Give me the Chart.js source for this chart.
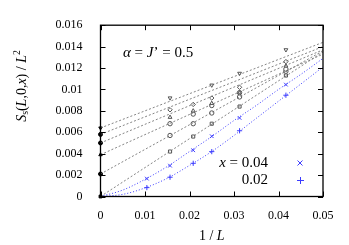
<!DOCTYPE html>
<html lang="en">
<head>
    <meta charset="UTF-8">
    <title>S_s(L,0,x) / L^2 vs 1/L</title>
    <script src="https://cdn.jsdelivr.net/npm/chart.js@4/dist/chart.umd.min.js"></script>
    <style>
        html, body { margin: 0; padding: 0; background: #fff; }
        #wrap { width: 349px; height: 245px; }
    </style>
</head>
<body>
    <div id="wrap"><canvas id="chart"></canvas></div>
    <script>
        // 1/L for L = 96, 64, 48, 40, 32, 24
        const invL = [0.010417, 0.015625, 0.020833, 0.025, 0.03125, 0.041667];
        // gray series only have L = 64 .. 24
        const invLGray = [0.015625, 0.020833, 0.025, 0.03125, 0.041667];

        // blue series (legend)
        const x004 = [0.00167, 0.00288, 0.00432, 0.00563, 0.00734, 0.01045];
        const x002 = [0.00083, 0.0018, 0.0031, 0.00419, 0.00614, 0.00946];

        // blue fit curves
        const fitX = [0, 0.005, 0.01, 0.015, 0.02, 0.025, 0.03, 0.035, 0.04, 0.045, 0.05];
        const fit004 = [0, 0.0006, 0.0016, 0.0028, 0.0042, 0.0056, 0.0071, 0.0085, 0.0100, 0.0114, 0.0129];
        const fit002 = [0, 0.0002, 0.0008, 0.0017, 0.0029, 0.0042, 0.0057, 0.0073, 0.0089, 0.0105, 0.0121];

        // gray series (markers), top to bottom
        const grayTriDown = [0.0092, null, 0.0104, 0.0115, 0.0137];
        const grayDiamond = [0.0081, 0.0086, 0.0092, 0.0102, 0.0126];
        const grayTriUp   = [0.0074, 0.0080, 0.0087, 0.0097, 0.0122];
        const grayCircle  = [0.0068, 0.0077, 0.0085, 0.0097, 0.0119];
        const grayRing    = [0.0057, 0.0068, 0.0078, 0.0093, 0.0117];
        const graySquare  = [0.0042, 0.0056, 0.0068, 0.0084, 0.0113];

        // linear fits: value at 1/L = 0 (extrapolated) and at 1/L = 0.05
        const grayIntercepts = [0.0064, 0.0058, 0.0050, 0.0039, 0.0021, 0];
        const grayEnds       = [0.0144, 0.0140, 0.0137, 0.0133, 0.0136, 0.0135];
        const interceptStyles = [['triangle', 180], ['circle', 0], ['circle', 0], ['triangle', 0], ['circle', 0], ['rect', 0]];

        const xTicks = [0, 0.01, 0.02, 0.03, 0.04, 0.05];
        const yTicks = [0, 0.002, 0.004, 0.006, 0.008, 0.01, 0.012, 0.014, 0.016];

        const SERIF = "'Liberation Serif', 'Times New Roman', serif";
        const GRAY = '#666';
        const MARK = '#555';
        const BLUE = '#3c3cff';

        const pts = (xs, ys) => xs.map((x, i) => ({ x: x, y: ys[i] })).filter(p => p.y !== null);

        const datasets = [];

        // gray fit lines
        grayIntercepts.forEach((b, i) => {
            datasets.push({
                data: [{ x: 0, y: b }, { x: 0.05, y: grayEnds[i] }],
                showLine: true, borderColor: GRAY, borderWidth: 0.8, borderDash: [2, 2],
                pointRadius: 0
            });
        });
        // blue fit curves
        [fit004, fit002].forEach(f => {
            datasets.push({
                data: pts(fitX, f),
                showLine: true, borderColor: BLUE, borderWidth: 1, borderDash: [1, 2],
                pointRadius: 0, cubicInterpolationMode: 'monotone'
            });
        });

        const grayMarks = [
            [grayTriDown, 'triangle', 180],
            [grayDiamond, 'rectRot', 0],
            [grayTriUp, 'triangle', 0],
            [grayCircle, 'circle', 0],
            [grayRing, 'circle', 0],
            [graySquare, 'rect', 0]
        ];
        grayMarks.forEach(([vals, style, rot]) => {
            datasets.push({
                data: pts(invLGray, vals),
                showLine: false, pointStyle: style, rotation: rot,
                pointRadius: 2.2, borderWidth: 1, borderColor: MARK, backgroundColor: '#fff'
            });
        });

        // extrapolated values at 1/L = 0
        grayIntercepts.forEach((b, i) => {
            datasets.push({
                data: [{ x: 0, y: b }],
                showLine: false, pointStyle: interceptStyles[i][0], rotation: interceptStyles[i][1],
                pointRadius: 2, borderWidth: 1, borderColor: '#000', backgroundColor: '#000',
                clip: false
            });
        });

        datasets.push({
            data: pts(invL, x004), showLine: false, pointStyle: 'crossRot',
            pointRadius: 2.6, borderWidth: 1, borderColor: BLUE
        });
        datasets.push({
            data: pts(invL, x002), showLine: false, pointStyle: 'cross',
            pointRadius: 2.6, borderWidth: 1, borderColor: BLUE
        });

        // text with italic parts: [[text, italic, shift]]
        function drawRich(ctx, parts, size, x, y, align) {
            const widths = parts.map(p => {
                const s = p[2] ? size * 0.7 : size;
                ctx.font = (p[1] ? 'italic ' : '') + s + 'px ' + SERIF;
                return ctx.measureText(p[0]).width;
            });
            const total = widths.reduce((a, b) => a + b, 0);
            let cx = align === 'right' ? x - total : align === 'center' ? x - total / 2 : x;
            parts.forEach((p, i) => {
                const s = p[2] ? size * 0.7 : size;
                ctx.font = (p[1] ? 'italic ' : '') + s + 'px ' + SERIF;
                ctx.fillText(p[0], cx, y + (p[2] || 0));
                cx += widths[i];
            });
        }

        const decorations = {
            id: 'decorations',
            afterDraw(chart) {
                const { ctx, chartArea: a, scales } = chart;
                ctx.save();
                ctx.strokeStyle = '#000';
                ctx.lineWidth = 1;
                ctx.beginPath();
                xTicks.forEach(v => {
                    const px = Math.round(scales.x.getPixelForValue(v)) + 0.5;
                    ctx.moveTo(px, a.bottom); ctx.lineTo(px, a.bottom - 5);
                    ctx.moveTo(px, a.top); ctx.lineTo(px, a.top + 5);
                });
                yTicks.forEach(v => {
                    const py = Math.round(scales.y.getPixelForValue(v)) + 0.5;
                    ctx.moveTo(a.left, py); ctx.lineTo(a.left + 5, py);
                    ctx.moveTo(a.right, py); ctx.lineTo(a.right - 5, py);
                });
                ctx.stroke();
                ctx.lineWidth = 1.3;
                ctx.strokeRect(a.left, a.top, a.right - a.left, a.bottom - a.top);

                ctx.fillStyle = '#000';
                ctx.textBaseline = 'middle';

                // alpha = J' = 0.5
                drawRich(ctx, [['α', true], [' = ', false], ['J', true], ['’ = 0.5', false]], 15, 123, 53, 'left');

                // legend
                drawRich(ctx, [['x', true], [' = 0.04', false]], 15, 268, 163, 'right');
                drawRich(ctx, [['0.02', false]], 15, 268, 180, 'right');
                ctx.strokeStyle = BLUE;
                ctx.lineWidth = 1;
                ctx.beginPath();
                ctx.moveTo(297.5, 160.5); ctx.lineTo(302.5, 165.5);
                ctx.moveTo(302.5, 160.5); ctx.lineTo(297.5, 165.5);
                ctx.moveTo(297, 180.5); ctx.lineTo(304, 180.5);
                ctx.moveTo(300.5, 177); ctx.lineTo(300.5, 184);
                ctx.stroke();

                // x axis title
                drawRich(ctx, [['1 / ', false], ['L', true]], 14, (a.left + a.right) / 2, 236, 'center');

                // y axis title
                ctx.translate(22, 86);
                ctx.rotate(-Math.PI / 2);
                drawRich(ctx, [['S', true], ['s', false, 3], ['(', false], ['L', true], [',0,', false], ['x', true],
                    [') / ', false], ['L', true], ['2', false, -5]], 14, 0, 0, 'center');
                ctx.restore();
            }
        };

        const fmt = v => String(Number(v.toFixed(4)));

        new Chart(document.getElementById('chart'), {
            type: 'scatter',
            data: { datasets: datasets },
            options: {
                responsive: true,
                maintainAspectRatio: false,
                animation: false,
                layout: { padding: { left: 0, right: 26, top: 19, bottom: 0 } },
                plugins: { legend: { display: false }, tooltip: { enabled: false } },
                scales: {
                    x: {
                        type: 'linear', min: 0, max: 0.05,
                        afterBuildTicks: s => { s.ticks = xTicks.map(v => ({ value: v })); },
                        afterFit: s => { s.height = 48.5; },
                        grid: { display: false, drawTicks: false },
                        border: { display: false },
                        ticks: { padding: 12, color: '#000', font: { family: SERIF, size: 12 }, callback: fmt, maxRotation: 0 }
                    },
                    y: {
                        type: 'linear', min: 0, max: 0.016,
                        afterBuildTicks: s => { s.ticks = yTicks.map(v => ({ value: v })); },
                        afterFit: s => { s.width = 100.5; },
                        grid: { display: false, drawTicks: false },
                        border: { display: false },
                        ticks: { padding: 18, color: '#000', font: { family: SERIF, size: 12 }, callback: fmt }
                    }
                }
            },
            plugins: [decorations]
        });
    </script>
</body>
</html>
